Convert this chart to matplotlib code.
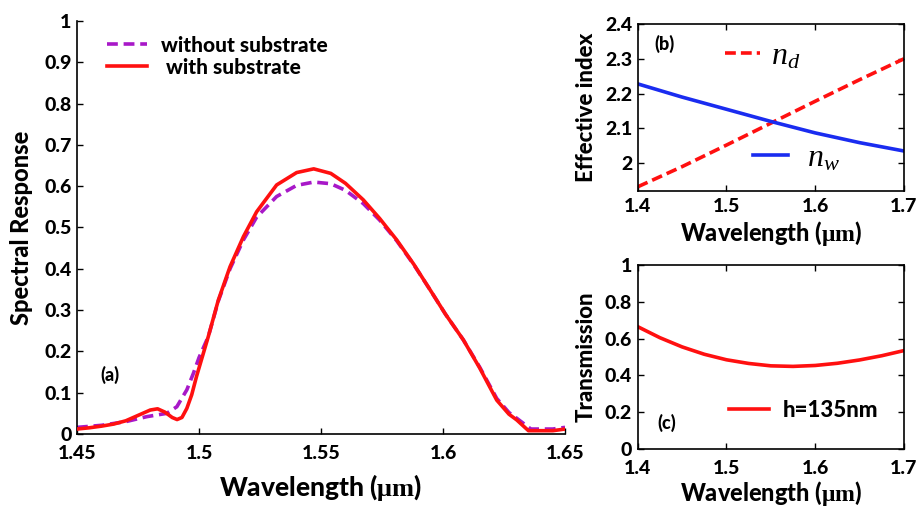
import matplotlib
matplotlib.use("Agg")
import matplotlib.pyplot as plt

W = 'black'
plt.rcParams['font.family'] = ['Lato', 'DejaVu Sans']
plt.rcParams['font.weight'] = W
plt.rcParams['mathtext.fontset'] = 'custom'
plt.rcParams['mathtext.rm'] = 'Liberation Serif:weight=bold'
plt.rcParams['mathtext.bf'] = 'Liberation Serif:weight=bold'
plt.rcParams['mathtext.it'] = 'Liberation Serif:style=italic:weight=normal'

# ---------------- data ----------------
# (a) spectral response
wl_with = [1.450, 1.455, 1.460, 1.465, 1.470, 1.475, 1.480, 1.483, 1.486, 1.489,
           1.491, 1.493, 1.495, 1.497, 1.499, 1.502, 1.5038, 1.5079, 1.5127, 1.5182,
           1.5236, 1.5318, 1.540, 1.547, 1.554, 1.560, 1.5673, 1.574, 1.581, 1.588,
           1.5947, 1.601, 1.6083, 1.615, 1.622, 1.627, 1.6302, 1.635, 1.640, 1.645, 1.650]
resp_with = [0.012, 0.015, 0.019, 0.024, 0.032, 0.045, 0.058, 0.061, 0.053, 0.040,
             0.035, 0.040, 0.062, 0.095, 0.140, 0.200, 0.236, 0.324, 0.405, 0.478,
             0.538, 0.603, 0.633, 0.642, 0.631, 0.607, 0.567, 0.522, 0.470, 0.411,
             0.349, 0.290, 0.228, 0.160, 0.082, 0.048, 0.034, 0.008, 0.008, 0.008, 0.012]

wl_without = [1.450, 1.460, 1.470, 1.4786, 1.4868, 1.4909, 1.495, 1.4977, 1.500, 1.5038,
              1.5079, 1.5127, 1.5182, 1.5236, 1.5318, 1.540, 1.547, 1.554, 1.560, 1.5673,
              1.574, 1.581, 1.588, 1.5947, 1.601, 1.6083, 1.615, 1.622, 1.627, 1.6302,
              1.636, 1.645, 1.650]
resp_without = [0.016, 0.021, 0.030, 0.042, 0.050, 0.066, 0.107, 0.147, 0.185, 0.236,
                0.322, 0.400, 0.470, 0.525, 0.575, 0.602, 0.610, 0.606, 0.590, 0.558,
                0.518, 0.468, 0.410, 0.349, 0.290, 0.228, 0.162, 0.086, 0.052, 0.038,
                0.012, 0.012, 0.016]

# (b) effective index
wl_b = [1.40, 1.45, 1.50, 1.55, 1.60, 1.65, 1.70]
n_d = [1.932, 1.990, 2.052, 2.115, 2.178, 2.240, 2.300]
n_w = [2.228, 2.190, 2.155, 2.120, 2.087, 2.059, 2.035]

# (c) transmission
wl_c = [1.40, 1.425, 1.45, 1.475, 1.50, 1.525, 1.55, 1.575, 1.60, 1.625, 1.65, 1.675, 1.70]
trans = [0.665, 0.605, 0.555, 0.515, 0.485, 0.465, 0.452, 0.449, 0.454, 0.466, 0.484, 0.507, 0.535]

xt_a = [1.45, 1.5, 1.55, 1.6, 1.65]
xt_a_lbl = ['1.45', '1.5', '1.55', '1.6', '1.65']
yt_a = [0, 0.1, 0.2, 0.3, 0.4, 0.5, 0.6, 0.7, 0.8, 0.9, 1.0]
yt_a_lbl = ['0', '0.1', '0.2', '0.3', '0.4', '0.5', '0.6', '0.7', '0.8', '0.9', '1']
xt_bc = [1.4, 1.5, 1.6, 1.7]
xt_bc_lbl = ['1.4', '1.5', '1.6', '1.7']
yt_b = [2.0, 2.1, 2.2, 2.3, 2.4]
yt_b_lbl = ['2', '2.1', '2.2', '2.3', '2.4']
yt_c = [0, 0.2, 0.4, 0.6, 0.8, 1.0]
yt_c_lbl = ['0', '0.2', '0.4', '0.6', '0.8', '1']

RED = '#ff1010'
PURPLE = '#a818c8'
BLUE = '#1a2cf0'
XLABEL = r'Wavelength ($\mathrm{\mu m}$)'

fig = plt.figure(figsize=(9.17, 5.11), dpi=100)

def style(ax, box=True, xpad=6):
    ax.tick_params(direction='in', length=4, width=1, labelsize=14,
                   top=box, right=box)
    ax.tick_params(axis='x', pad=xpad)
    ax.tick_params(axis='y', pad=4)
    for lbl in ax.get_xticklabels() + ax.get_yticklabels():
        lbl.set_fontweight(W)
    for s in ax.spines.values():
        s.set_linewidth(1.2)
    if not box:
        ax.spines['top'].set_visible(False)
        ax.spines['right'].set_visible(False)

# ---------------- panel (a) ----------------
axa = fig.add_axes([0.0840, 0.1507, 0.5322, 0.8082])
axa.plot(wl_without, resp_without, '--', color=PURPLE, lw=2.6, dashes=(3, 1.6),
         label='without substrate', zorder=2)
axa.plot(wl_with, resp_with, '-', color=RED, lw=2.6, label=' with substrate', zorder=3)
axa.set_xlim(1.45, 1.65)
axa.set_ylim(0, 1)
axa.set_xticks(xt_a, xt_a_lbl)
axa.set_yticks(yt_a, yt_a_lbl)
style(axa, box=False, xpad=8)
axa.set_xlabel(XLABEL, fontsize=19, fontweight=W, labelpad=7)
axa.set_ylabel('Spectral Response', fontsize=17, fontweight=W, labelpad=8)
axa.legend(loc='upper left', bbox_to_anchor=(0.045, 0.985), frameon=False,
           prop={'size': 15, 'weight': W}, handlelength=1.9, handletextpad=0.7,
           labelspacing=0.15, borderaxespad=0)
axa.text(1.4635, 0.143, '(a)', fontsize=13, fontweight=W, ha='center', va='center')

# ---------------- panel (b) ----------------
axb = fig.add_axes([0.6954, 0.6262, 0.2904, 0.3268])
ld, = axb.plot(wl_b, n_d, '--', color=RED, lw=2.6, dashes=(3, 1.4))
lw_, = axb.plot(wl_b, n_w, '-', color=BLUE, lw=2.6)
axb.set_xlim(1.4, 1.7)
axb.set_ylim(1.92, 2.39)
axb.set_xticks(xt_bc, xt_bc_lbl)
axb.set_yticks(yt_b, yt_b_lbl)
style(axb, xpad=5)
axb.set_xlabel(XLABEL, fontsize=17, fontweight=W, labelpad=3)
axb.set_ylabel('Effective index', fontsize=16, fontweight=W, labelpad=6)
leg1 = axb.legend([ld], [r'$n_d$'], loc='center left', bbox_to_anchor=(0.28, 0.81),
                  frameon=False, prop={'size': 23}, handlelength=1.1,
                  handletextpad=0.35, borderaxespad=0)
axb.add_artist(leg1)
axb.legend([lw_], [r'$n_w$'], loc='center left', bbox_to_anchor=(0.385, 0.20),
           frameon=False, prop={'size': 23}, handlelength=1.1,
           handletextpad=0.6, borderaxespad=0)
axb.text(0.10, 0.88, '(b)', transform=axb.transAxes, fontsize=13,
         fontweight=W, ha='center', va='center')

# ---------------- panel (c) ----------------
axc = fig.add_axes([0.6954, 0.1213, 0.2904, 0.3601])
axc.plot(wl_c, trans, '-', color=RED, lw=2.6, label='h=135nm')
axc.set_xlim(1.4, 1.7)
axc.set_ylim(0, 1)
axc.set_xticks(xt_bc, xt_bc_lbl)
axc.set_yticks(yt_c, yt_c_lbl)
style(axc, xpad=8)
axc.set_xlabel(XLABEL, fontsize=17, fontweight=W, labelpad=1)
axc.set_ylabel('Transmission', fontsize=16, fontweight=W, labelpad=6)
axc.legend(loc='center left', bbox_to_anchor=(0.31, 0.21), frameon=False,
           prop={'size': 16, 'weight': W}, handlelength=1.8,
           handletextpad=0.6, borderaxespad=0)
axc.text(0.11, 0.14, '(c)', transform=axc.transAxes, fontsize=13,
         fontweight=W, ha='center', va='center')

fig.savefig('out.png', dpi=100)
